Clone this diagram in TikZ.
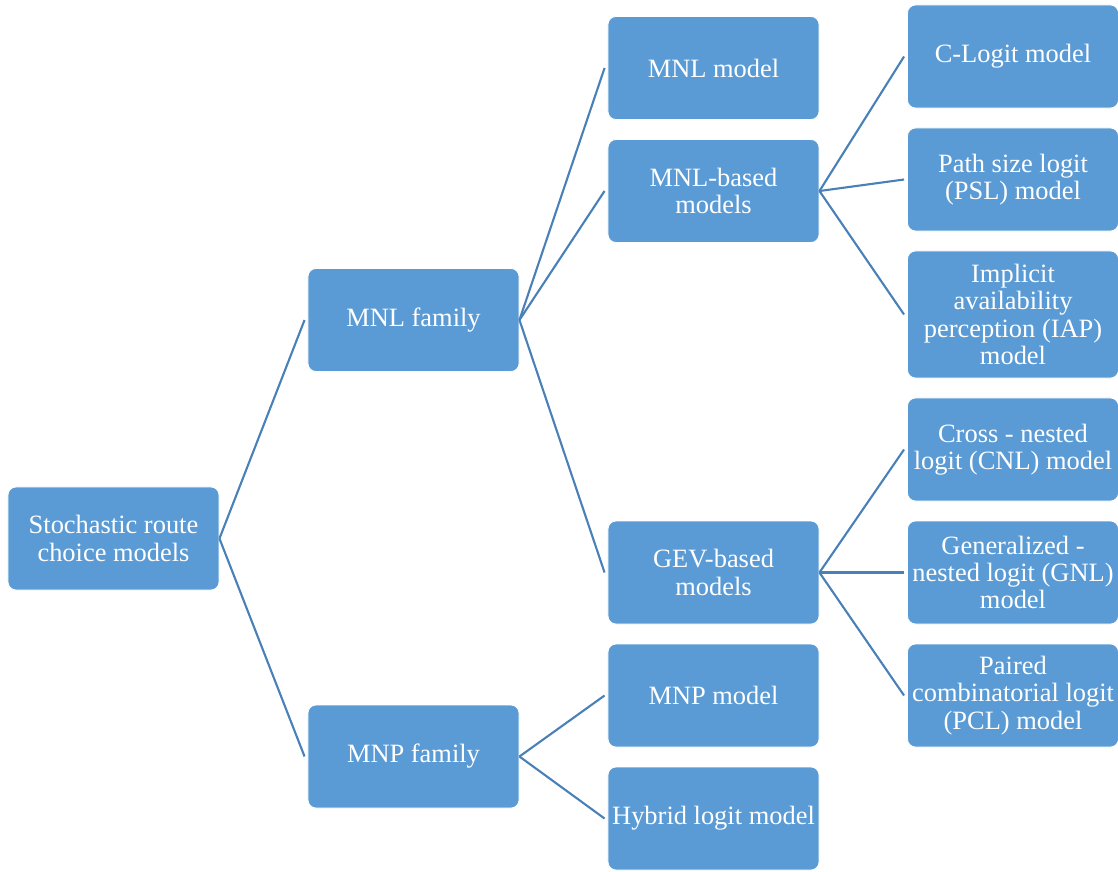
\documentclass[tikz,border=0pt]{standalone}
\usepackage{fontspec}
\setmainfont{Liberation Serif}
\definecolor{boxblue}{HTML}{5B9BD5}
\definecolor{lineblue}{HTML}{4A80B8}

\begin{document}
\begin{tikzpicture}[x=0.025cm, y=-0.025cm,
    font=\fontsize{18.8}{19.4}\selectfont,
    box/.style={draw=white, line width=0.6pt, fill=boxblue, text=white,
      rounded corners=0.2cm, align=center, inner sep=1pt,
      minimum width=5.275cm, minimum height=2.575cm},
    link/.style={draw=lineblue, line width=1.5pt}]

    % frame of the picture
    \useasboundingbox (0,0) rectangle (1118,871);

    % 1. root and the two families
    \node[box] (root)   at (113.5,538.5) {Stochastic route\\choice models};
    \node[box] (mnlfam) at (413.5,320)   {MNL family};
    \node[box] (mnpfam) at (413.5,756.5) {MNP family};

    % 2. middle column
    \node[box] (mnl)    at (713.5,68)    {MNL model};
    \node[box] (mnlbas) at (713.5,191)   {MNL-based\\models};
    \node[box] (gevbas) at (713.5,572.5) {GEV-based\\models};
    \node[box] (mnp)    at (713.5,695.5) {MNP model};
    \node[box] (hybrid) at (713.5,818.5) {Hybrid logit model};

    % 3. right column
    \node[box] (clogit) at (1013,56.5)  {C-Logit model};
    \node[box] (psl)    at (1013,179.5) {Path size logit\\(PSL) model};
    \node[box, minimum height=3.175cm] (iap) at (1013,314.5)
          {Implicit\\availability\\perception (IAP)\\model};
    \node[box] (cnl)    at (1013,449.5) {Cross - nested\\logit (CNL) model};
    \node[box] (gnl)    at (1013,572.5) {Generalized -\\nested logit (GNL)\\model};
    \node[box] (pcl)    at (1013,695.5) {Paired\\combinatorial logit\\(PCL) model};

    % 4. connectors
    \foreach \a/\b in {root/mnlfam, root/mnpfam, mnlfam/mnl, mnlfam/mnlbas,
        mnlfam/gevbas, mnpfam/mnp, mnpfam/hybrid, mnlbas/clogit, mnlbas/psl,
        mnlbas/iap, gevbas/cnl, gevbas/gnl, gevbas/pcl}{
      \draw[link] (\a.east) -- ([xshift=-0.075cm]\b.west);
    }

\end{tikzpicture}
\end{document}
